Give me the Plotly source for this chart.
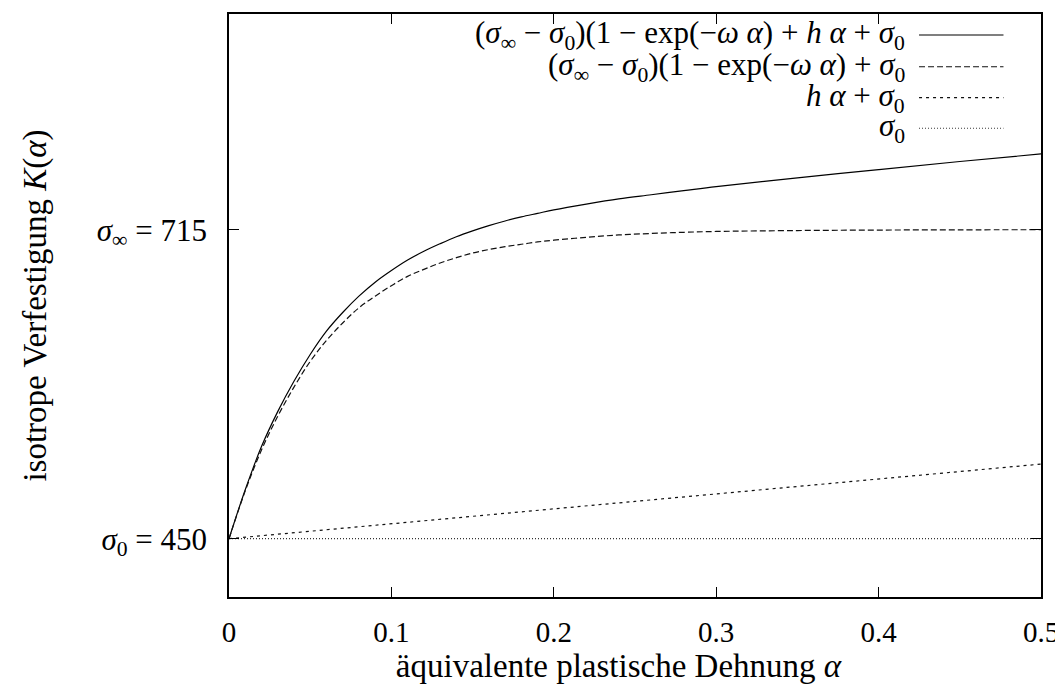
import plotly.graph_objects as go

# Values
alpha = [0, 0.01, 0.02, 0.03, 0.04, 0.05, 0.06, 0.07, 0.08, 0.09, 0.10,
         0.11, 0.12, 0.13, 0.14, 0.15, 0.16, 0.17, 0.18, 0.19, 0.20,
         0.22, 0.24, 0.26, 0.28, 0.30, 0.35, 0.40, 0.45, 0.50]
k_full = [450, 492, 529, 559, 585, 608, 628, 644, 658, 670, 680,
          689, 696.5, 703, 709, 714, 718.5, 722.5, 726, 729, 732,
          737, 741.5, 745, 748.5, 752, 759.5, 766.5, 773.5, 780]
k_sat = [450, 491, 526, 555, 580, 602, 620, 635, 648, 658, 667,
         675, 681, 686.5, 691, 695, 698, 700.5, 702.5, 704.5, 706,
         708.5, 710.5, 711.8, 712.8, 713.5, 714.3, 714.7, 714.9, 715]
alpha_lin = [0, 0.25, 0.5]
k_lin = [450, 482, 514]
alpha_const = [0, 0.5]
k_const = [450, 450]

x_ticks = [0, 0.1, 0.2, 0.3, 0.4, 0.5]
x_ticktext = ["0", "0.1", "0.2", "0.3", "0.4", "0.5"]
y_ticks = [450, 715]
y_ticktext = ["<i>σ</i><sub>0</sub> = 450", "<i>σ</i><sub>∞</sub> = 715"]

legend_labels = [
    "(<i>σ</i><sub>∞</sub> − <i>σ</i><sub>0</sub>)(1 − exp(−<i>ω α</i>) + <i>h α</i> + <i>σ</i><sub>0</sub>",
    "(<i>σ</i><sub>∞</sub> − <i>σ</i><sub>0</sub>)(1 − exp(−<i>ω α</i>) + <i>σ</i><sub>0</sub>",
    "<i>h α</i> + <i>σ</i><sub>0</sub>",
    "<i>σ</i><sub>0</sub>",
]
dashes = ["solid", "6px,3px", "3px,4px", "1px,2px"]
colors = ["#000000", "#111111", "#111111", "#333333"]

FONT = "Liberation Serif"

fig = go.Figure()
series = [(alpha, k_full), (alpha, k_sat), (alpha_lin, k_lin), (alpha_const, k_const)]
for (xs, ys), d, c in zip(series, dashes, colors):
    fig.add_trace(go.Scatter(x=xs, y=ys, mode="lines",
                             line=dict(color=c, width=1.2, dash=d, shape="spline", smoothing=1.0),
                             showlegend=False, hoverinfo="skip"))

# gnuplot-style key: text right-aligned, line sample to the right
row_y = [0.9640, 0.9095, 0.8565, 0.8040]
for lab, d, c, yy in zip(legend_labels, dashes, colors, row_y):
    fig.add_annotation(x=0.835, y=yy, xref="paper", yref="paper", text=lab,
                       showarrow=False, xanchor="right", yanchor="middle",
                       font=dict(family=FONT, size=31, color="black"))
    fig.add_shape(type="line", xref="paper", yref="paper", x0=0.8498, x1=0.9538,
                  y0=yy, y1=yy, line=dict(color=c, width=1.2, dash=d))

fig.update_layout(
    width=1055, height=687,
    margin=dict(l=221, r=22, t=4, b=98),
    paper_bgcolor="white", plot_bgcolor="white",
    font=dict(family=FONT, size=29, color="black"),
    xaxis=dict(range=[0, 0.5], tickvals=x_ticks, ticktext=x_ticktext,
               ticks="inside", ticklen=10, tickwidth=1, tickcolor="black",
               showline=True, linecolor="black", linewidth=1.5, mirror="ticks",
               showgrid=False, zeroline=False, ticklabelstandoff=8,
               tickfont=dict(family=FONT, size=29),
               title=dict(text="äquivalente plastische Dehnung <i>α</i>&nbsp;&nbsp;&nbsp;&nbsp;",
                          font=dict(family=FONT, size=33), standoff=2)),
    yaxis=dict(range=[400, 900], tickvals=y_ticks, ticktext=y_ticktext,
               ticks="inside", ticklen=10, tickwidth=1, tickcolor="black",
               showline=True, linecolor="black", linewidth=1.5, mirror="ticks",
               showgrid=False, zeroline=False, ticklabelstandoff=14,
               tickfont=dict(family=FONT, size=31),
               title=dict(text="isotrope Verfestigung <i>K</i>(<i>α</i>)",
                          font=dict(family=FONT, size=33), standoff=40)),
)

fig.write_html("out.html")
